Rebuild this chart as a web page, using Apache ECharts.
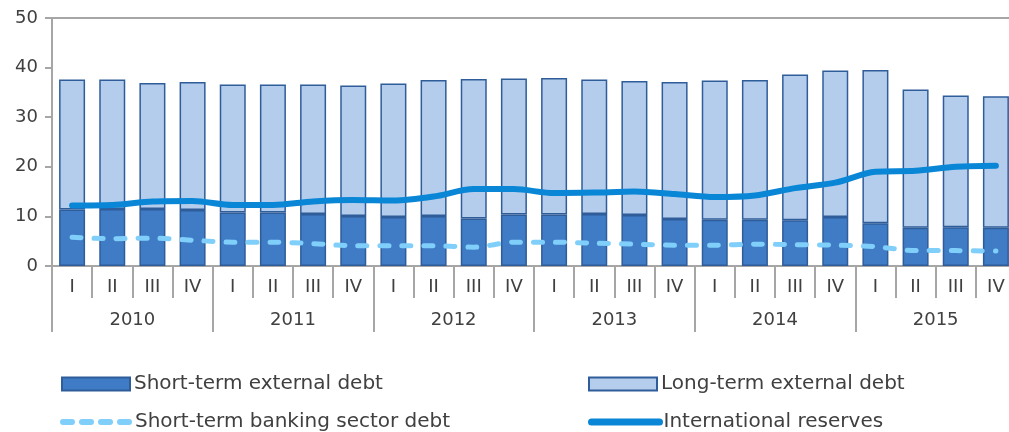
<!DOCTYPE html>
<html>
<head>
<meta charset="utf-8">
<script src="https://cdn.jsdelivr.net/npm/echarts@6/dist/echarts.min.js"></script>
<style>
  html, body { margin: 0; padding: 0; background: #ffffff; }
  #chart { width: 1009px; height: 432px; }
</style>
</head>
<body>
<div id="chart"></div>
<script>
// Quarterly categories and year groups
const quarters = ['I','II','III','IV','I','II','III','IV','I','II','III','IV',
                  'I','II','III','IV','I','II','III','IV','I','II','III','IV'];
const years = ['2010','2011','2012','2013','2014','2015'];

// Short-term external debt
const shortTermDebt = [11.4, 11.5, 11.5, 11.3, 10.8, 10.8, 10.5, 10.1,
                       9.9, 10.1, 9.6, 10.4, 10.4, 10.5, 10.3, 9.5,
                       9.3, 9.3, 9.2, 9.9, 8.6, 7.7, 7.8, 7.7];
// Long-term external debt (stacked on top)
const longTermDebt = [26.2, 26.1, 25.4, 25.8, 25.8, 25.8, 26.1, 26.3,
                      26.9, 27.4, 28.1, 27.4, 27.5, 27.1, 27.0, 27.6,
                      28.1, 28.2, 29.4, 29.5, 30.9, 27.9, 26.6, 26.5];
// Short-term banking sector debt
const bankingDebt = [5.8, 5.5, 5.6, 5.2, 4.8, 4.8, 4.5, 4.1,
                     4.1, 4.1, 3.8, 4.8, 4.8, 4.6, 4.4, 4.2,
                     4.2, 4.4, 4.3, 4.2, 3.9, 3.1, 3.1, 3.0];
// International reserves
const reserves = [12.2, 12.3, 13.0, 13.1, 12.3, 12.3, 13.0, 13.3,
                  13.2, 14.0, 15.5, 15.5, 14.7, 14.8, 15.0, 14.5,
                  13.9, 14.2, 15.7, 16.8, 19.0, 19.2, 20.0, 20.2];

const yTicks = { min: 0, max: 50, interval: 10 };

const FONT = 'DejaVu Sans';
const TEXT = '#404040';
const AXIS = '#a6a6a6';
const BORDER = '#2f5d9a';
const BANK = '#80cffa';
const RES = '#0a86d6';

const chart = echarts.init(document.getElementById('chart'), null, { renderer: 'canvas' });

const legendBase = {
  itemWidth: 68,
  itemHeight: 13,
  itemGap: 0,
  textStyle: { fontFamily: FONT, fontSize: 20, color: TEXT, padding: [0, 0, 0, -1] },
  padding: 0
};

chart.setOption({
  animation: false,
  backgroundColor: '#ffffff',
  // plot runs a few pixels past the right edge of the canvas
  grid: { left: 52, width: 964, top: 18, bottom: 166, containLabel: false, outerBoundsMode: 'none' },
  legend: [
    Object.assign({}, legendBase, { data: [{ name: 'Short-term external debt', icon: 'rect' }], left: 61, top: 374 }),
    Object.assign({}, legendBase, { data: [{ name: 'Long-term external debt', icon: 'rect' }], left: 588, top: 374 }),
    Object.assign({}, legendBase, {
      data: ['Short-term banking sector debt'], left: 60, top: 412,
      itemStyle: { opacity: 0 },
      lineStyle: { color: BANK, width: 6, type: [9, 10], cap: 'round' }
    }),
    Object.assign({}, legendBase, {
      data: ['International reserves'], left: 588, top: 412,
      itemStyle: { opacity: 0 },
      lineStyle: { color: RES, width: 7, cap: 'round' }
    })
  ],
  xAxis: [
    {
      type: 'category',
      data: quarters,
      position: 'bottom',
      axisLine: { show: true, lineStyle: { color: AXIS, width: 2 } },
      axisTick: { show: true, interval: 0, length: 32, lineStyle: { color: AXIS, width: 2 } },
      axisLabel: { interval: 0, margin: 12, fontFamily: FONT, fontSize: 18, color: TEXT }
    },
    {
      type: 'category',
      data: years,
      position: 'bottom',
      axisLine: { show: false },
      axisTick: { show: true, length: 66, lineStyle: { color: AXIS, width: 2 } },
      axisLabel: { interval: 0, margin: 45, fontFamily: FONT, fontSize: 18, color: TEXT }
    }
  ],
  yAxis: {
    type: 'value',
    min: yTicks.min,
    max: yTicks.max,
    interval: yTicks.interval,
    axisLine: { show: true, lineStyle: { color: AXIS, width: 2 } },
    axisTick: { show: true, length: 7, lineStyle: { color: AXIS, width: 2 } },
    axisLabel: { margin: 14, fontFamily: FONT, fontSize: 18, color: TEXT },
    splitLine: {
      show: true,
      lineStyle: { color: ['rgba(0,0,0,0)', 'rgba(0,0,0,0)', 'rgba(0,0,0,0)', 'rgba(0,0,0,0)', 'rgba(0,0,0,0)', AXIS], width: 2 }
    }
  },
  series: [
    {
      name: 'Short-term external debt',
      type: 'bar',
      stack: 'debt',
      barWidth: 26,
      data: shortTermDebt,
      itemStyle: { color: '#3f7cc5', borderColor: BORDER, borderWidth: 1.5 }
    },
    {
      name: 'Long-term external debt',
      type: 'bar',
      stack: 'debt',
      barWidth: 26,
      data: longTermDebt,
      itemStyle: { color: '#b4cdec', borderColor: BORDER, borderWidth: 1.5 }
    },
    {
      name: 'Short-term banking sector debt',
      type: 'line',
      data: bankingDebt,
      smooth: 0.3,
      symbol: 'none',
      lineStyle: { color: BANK, width: 5, type: [9, 13], cap: 'round' },
      itemStyle: { color: BANK },
      z: 3
    },
    {
      name: 'International reserves',
      type: 'line',
      data: reserves,
      smooth: 0.3,
      symbol: 'none',
      lineStyle: { color: RES, width: 6, cap: 'round' },
      itemStyle: { color: RES },
      z: 4
    }
  ]
});
</script>
</body>
</html>
